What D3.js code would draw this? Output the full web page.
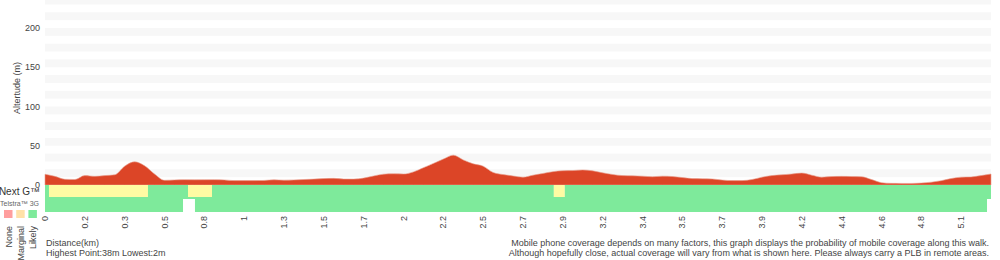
<!DOCTYPE html>
<html>
<head>
<meta charset="utf-8">
<script src="https://cdn.jsdelivr.net/npm/d3@7"></script>
<style>
body { margin:0; background:#fff; }
text { font-family: "Liberation Sans", Arial, Helvetica, sans-serif; fill:#444; }
</style>
</head>
<body>
<div id="grafica"></div>
<script>
// altitude profile, one sample every quarter of a tick
let altitude = [13.7,11,7.3,7,12,11,12,13,24,29.5,24.5,14,6,6.5,6.8,6.6,6.7,6.8,6.5,5.6,
  5.6,5.6,5.8,6.6,6.2,6.5,7,7.5,8.3,8.5,7.6,7.5,8.8,11.5,13.8,14.3,14,16.7,22,27.5,
  33,38,32,27,24,16,13.3,11.5,10,12.5,14.7,17,18.2,18.4,19.2,18,15.5,13.4,12,11.7,
  11.3,10.5,11.3,10.8,9.5,8.2,8,7.7,6.3,5.6,5.6,7,10,12,13,14,15.2,12.5,10,10.8,
  11,10.8,10.5,7,3,2.1,2,2,2.5,3.6,5.5,8.3,10,10.3,12,14]

let distanceLabels = ["0","0.2","0.3","0.5","0.8","1","1.3","1.5","1.7","2","2.2","2.5",
  "2.7","2.9","3.2","3.4","3.5","3.7","3.9","4.2","4.4","4.6","4.8","5.1"]

let altitudeTicks = [0,50,100,150,200]

// coverage segments [from, to, level] in sample units
let nextG = [[0,0.4,"Likely"],[0.4,10.34,"Marginal"],[10.34,14.36,"Likely"],[14.36,16.77,"Marginal"],
  [16.77,51.1,"Likely"],[51.1,52.2,"Marginal"],[52.2,95,"Likely"]]
let telstra3G = [[0,13.86,"Likely"],[15.06,94.6,"Likely"]]

let levels = ["None","Marginal","Likely"]
let levelColors = {None:"#ff9e9e", Marginal:"#fffba3", Likely:"#7eea9b"}
let legendColors = {None:"#ff9e9e", Marginal:"#ffe1a8", Likely:"#7eea9b"}

let width = 1000
let height = 260

const svg = d3.select('#grafica')
  .append("svg")
  .attr("width", width)
  .attr("height", height)

const xScale = d3.scaleLinear()
  .domain([0, altitude.length - 1])
  .range([45, 991])

const yScale = d3.scaleLinear()
  .domain([0, 240])
  .range([185, 185 - 0.785 * 240])

// striped background
let bands = d3.range(10, 240, 20)
svg.selectAll("rect.band")
  .data(bands)
  .enter()
  .append("rect")
  .attr("class", "band")
  .attr("x", xScale(0))
  .attr("width", xScale(altitude.length - 1) - xScale(0))
  .attr("y", d => yScale(d + 10))
  .attr("height", d => yScale(d) - yScale(d + 10))
  .attr("fill", "#f7f7f7")

// altitude area
const area = d3.area()
  .x((d, i) => xScale(i))
  .y0(yScale(0))
  .y1(d => yScale(d))
  .curve(d3.curveMonotoneX)

svg.append("path")
  .datum(altitude)
  .attr("d", area)
  .attr("fill", "#dc4527")
  .attr("stroke", "#e8a08e")
  .attr("stroke-width", 0.6)

// y labels
svg.selectAll("text.ytick")
  .data(altitudeTicks)
  .enter()
  .append("text")
  .attr("class", "ytick")
  .attr("x", 40)
  .attr("y", d => yScale(d))
  .attr("dy", "0.35em")
  .attr("text-anchor", "end")
  .style("font-size", "9px")
  .text(d => d)

svg.append("text")
  .attr("transform", "translate(20,88) rotate(-90)")
  .attr("text-anchor", "middle")
  .style("font-size", "9px")
  .text("Altertude (m)")

// coverage rows
let row1Top = yScale(0), row2Top = row1Top + 14, row2Bottom = row1Top + 27
svg.selectAll("rect.nextg")
  .data(nextG)
  .enter()
  .append("rect")
  .attr("class", "nextg")
  .attr("x", d => xScale(d[0]))
  .attr("width", d => xScale(d[1]) - xScale(d[0]))
  .attr("y", row1Top)
  .attr("height", d => d[2] == "Likely" ? 14 : 12)
  .attr("fill", d => levelColors[d[2]])

svg.append("rect")
  .attr("x", xScale(0))
  .attr("width", xScale(altitude.length - 1) - xScale(0))
  .attr("y", row1Top + 12)
  .attr("height", 2)
  .attr("fill", levelColors.Likely)

svg.selectAll("rect.tel3g")
  .data(telstra3G)
  .enter()
  .append("rect")
  .attr("class", "tel3g")
  .attr("x", d => xScale(d[0]))
  .attr("width", d => xScale(d[1]) - xScale(d[0]))
  .attr("y", row2Top)
  .attr("height", row2Bottom - row2Top)
  .attr("fill", d => levelColors[d[2]])

svg.append("text")
  .attr("x", 40)
  .attr("y", 195)
  .attr("text-anchor", "end")
  .style("font-size", "10px")
  .style("fill", "#333")
  .text("Next G\u2122")

svg.append("text")
  .attr("x", 39)
  .attr("y", 206)
  .attr("text-anchor", "end")
  .style("font-size", "7px")
  .style("fill", "#666")
  .text("Telstra\u2122 3G")

// legend
svg.selectAll("rect.legend")
  .data(levels)
  .enter()
  .append("rect")
  .attr("class", "legend")
  .attr("x", (d, i) => 4 + i * 12.2)
  .attr("y", 210)
  .attr("width", 8.5)
  .attr("height", 8)
  .attr("fill", d => legendColors[d])

svg.selectAll("text.legend")
  .data(levels)
  .enter()
  .append("text")
  .attr("class", "legend")
  .attr("transform", (d, i) => "translate(" + (8.5 + i * 12.2) + ",226) rotate(-90)")
  .attr("dy", "0.35em")
  .attr("text-anchor", "end")
  .style("font-size", "9px")
  .text(d => d)

// distance labels
svg.selectAll("text.xtick")
  .data(distanceLabels)
  .enter()
  .append("text")
  .attr("class", "xtick")
  .attr("transform", (d, i) => "translate(" + xScale(i * 4) + ",216) rotate(-90)")
  .attr("dy", "0.35em")
  .attr("text-anchor", "end")
  .style("font-size", "9px")
  .text(d => d)

svg.append("text")
  .attr("x", 46).attr("y", 246)
  .style("font-size", "9px")
  .text("Distance(km)")

svg.append("text")
  .attr("x", 46).attr("y", 256)
  .style("font-size", "9px")
  .text("Highest Point:38m Lowest:2m")

svg.append("text")
  .attr("x", 989).attr("y", 246)
  .attr("text-anchor", "end")
  .style("font-size", "9px")
  .text("Mobile phone coverage depends on many factors, this graph displays the probability of mobile coverage along this walk.")

svg.append("text")
  .attr("x", 989).attr("y", 256)
  .attr("text-anchor", "end")
  .style("font-size", "9px")
  .text("Although hopefully close, actual coverage will vary from what is shown here. Please always carry a PLB in remote areas.")
</script>
</body>
</html>
